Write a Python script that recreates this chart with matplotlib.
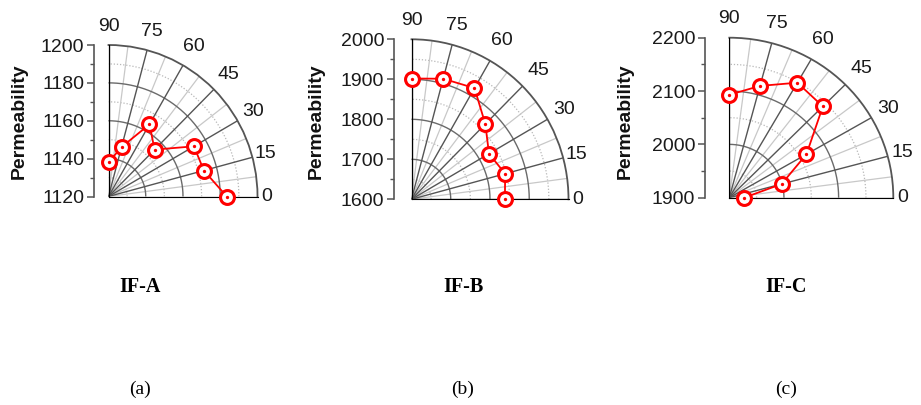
import numpy as np
import matplotlib
matplotlib.use("Agg")
import matplotlib.pyplot as plt
from matplotlib.ticker import MultipleLocator

# ---- data ----
angles = [0, 15, 30, 45, 60, 75, 90]
if_a = [1183.5, 1173, 1173, 1155, 1164, 1147, 1138]
if_b = [1838, 1847, 1828, 1866, 1921, 1912, 1902]
if_c = [1927, 1999, 2063, 2142, 2149, 2117, 2093]
angle_labels = ["0", "15", "30", "45", "60", "75", "90"]
panel_names = ["IF-A", "IF-B", "IF-C"]
panel_tags = ["(a)", "(b)", "(c)"]
r_limits = [(1120, 1200), (1600, 2000), (1900, 2200)]
r_major = [20, 100, 100]
r_minor = [10, 50, 50]

W, H = 921, 405
fig = plt.figure(figsize=(W / 100, H / 100), dpi=100)
plt.rcParams['font.family'] = ['Liberation Sans', 'DejaVu Sans']

# layout in pixels: origin x, origin y (from top), Rx, Ry, left spine x, ylabel x
layout = [
    (108.5, 196.5, 149, 151.5, 94, 19),
    (411.5, 199.3, 157, 160, 394, 316),
    (729.3, 197.7, 164, 160, 705, 625),
]
label_fac = [1.06, 1.09, 1.12, 1.14, 1.145, 1.125, 1.12]

series = [if_a, if_b, if_c]
bottom_x = [140, 463, 786]

for i, vals in enumerate(series):
    ox, oy, rx, ry, sx, lx = layout[i]
    rmin, rmax = r_limits[i]
    ax = fig.add_axes([ox / W, (H - oy) / H, rx / W, ry / H], projection='polar')
    ax.set_aspect('auto')
    ax.set_thetamin(0)
    ax.set_thetamax(90)
    ax.set_rlim(rmin, rmax)
    ax.grid(False)
    ax.set_xticks([])
    ax.set_yticks([])
    for k in ['start', 'end', 'inner']:
        ax.spines[k].set_visible(False)
    ax.spines['polar'].set_color('#555555')
    ax.spines['polar'].set_linewidth(1.3)
    ax.patch.set_alpha(0)

    th_full = np.linspace(0, np.pi / 2, 300)
    # minor radial circles (dotted)
    for r in np.arange(rmin + r_minor[i], rmax, r_minor[i]):
        if abs((r - rmin) % r_major[i]) > 1e-6:
            ax.plot(th_full, np.full_like(th_full, r), color='#b8b8b8',
                    lw=0.9, ls=(0, (1, 1.5)), zorder=1)
    # minor spokes
    for a in np.arange(7.5, 90, 15):
        t = np.deg2rad(a)
        ax.plot([t, t], [rmin, rmax], color='#c8c8c8', lw=0.9, zorder=1)
    # major radial circles
    for r in np.arange(rmin + r_major[i], rmax, r_major[i]):
        ax.plot(th_full, np.full_like(th_full, r), color='#6a6a6a', lw=1.0, zorder=2)
    # major spokes
    for a in angles:
        t = np.deg2rad(a)
        ax.plot([t, t], [rmin, rmax], color='#555555', lw=1.0, zorder=2)

    # angle labels
    for a, lab, f in zip(angles, angle_labels, label_fac):
        ax.text(np.deg2rad(a), rmin + f * (rmax - rmin), lab, ha='center', va='center',
                fontsize=14, color='#1a1a1a', clip_on=False)

    th = np.deg2rad(angles)
    ax.plot(th, vals, color='#ff0000', lw=1.3, zorder=4, clip_on=False)
    ax.plot(th, vals, ls='none', marker='o', ms=10, mfc='white', mec='#ff0000',
            mew=2.2, zorder=5, clip_on=False)
    ax.plot(th, vals, ls='none', marker='o', ms=2.4, mfc='#ff0000', mec='#ff0000',
            mew=0, zorder=6, clip_on=False)

    # left radial axis
    lax = fig.add_axes([sx / W, (H - oy) / H, 1 / W, ry / H])
    lax.set_ylim(rmin, rmax)
    lax.set_xticks([])
    lax.patch.set_alpha(0)
    for k in ['top', 'right', 'bottom']:
        lax.spines[k].set_visible(False)
    lax.spines['left'].set_color('#555555')
    lax.spines['left'].set_linewidth(1.2)
    lax.yaxis.set_major_locator(MultipleLocator(r_major[i]))
    lax.yaxis.set_minor_locator(MultipleLocator(r_minor[i]))
    lax.tick_params(axis='y', which='major', length=5, width=1.1, color='#555555',
                    labelsize=14, labelcolor='#1a1a1a', pad=2)
    lax.tick_params(axis='y', which='minor', length=3, width=1.0, color='#555555')

    fig.text(lx / W, 1 - 121 / H, 'Permeability', rotation=90, ha='center', va='center',
             fontsize=14, fontweight='bold', color='#111111')

    fig.text(bottom_x[i] / W, 1 - 287 / H, panel_names[i], ha='center', va='center',
             fontsize=14.5, fontweight='bold', family=['Liberation Serif', 'DejaVu Serif'])
    fig.text(bottom_x[i] / W, 1 - 389 / H, panel_tags[i], ha='center', va='center',
             fontsize=14, family=['Liberation Serif', 'DejaVu Serif'])

fig.savefig('out.png', dpi=100)
